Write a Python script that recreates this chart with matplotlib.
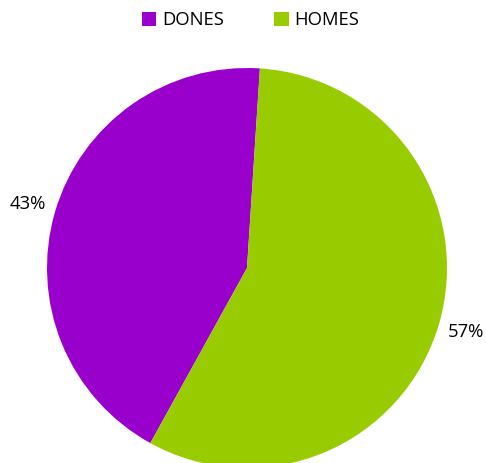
import matplotlib.pyplot as plt
from matplotlib.patches import Patch

labels = ["DONES", "HOMES"]
values = [43, 57]
colors = ["#9900CC", "#99CC00"]

plt.rcParams["font.family"] = ["Open Sans", "DejaVu Sans"]

W, H = 486, 463
cx, cy, r = 247, 268, 200

fig = plt.figure(figsize=(W / 100, H / 100), dpi=100)
ax = fig.add_axes([0, 0, 1, 1])

ax.pie(values, colors=colors, startangle=86.3, counterclock=True,
       radius=1, autopct="%d%%", pctdistance=1.14,
       textprops={"fontsize": 13.3, "color": "black"},
       wedgeprops={"linewidth": 0})

# place pie center in pixel space, 200 px per unit
ax.set_xlim(-cx / r, (W - cx) / r)
ax.set_ylim(-(H - cy) / r, cy / r)
ax.set_aspect("auto")
ax.axis("off")

handles = [Patch(facecolor=c, edgecolor="none") for c in colors]
fig.legend(handles, labels, loc="upper center", bbox_to_anchor=(0.515, 1.012),
           ncol=2, frameon=False, fontsize=13.3, handlelength=0.8,
           handleheight=0.8, handletextpad=0.3, columnspacing=2.7)

fig.savefig("out.png", dpi=100)
